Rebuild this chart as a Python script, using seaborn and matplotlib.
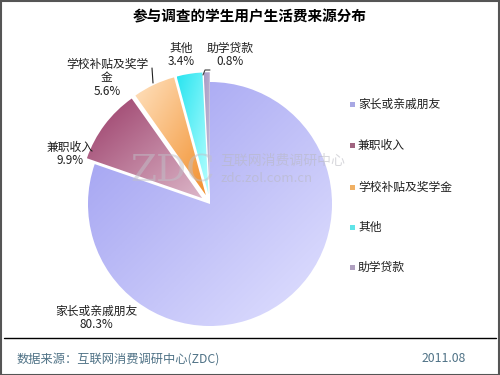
import numpy as np
import matplotlib
matplotlib.use("Agg")
import matplotlib.pyplot as plt
import seaborn as sns
from matplotlib.colors import LinearSegmentedColormap
from matplotlib.patches import Rectangle
from matplotlib.lines import Line2D

# ---- data ----
categories = ["家长或亲戚朋友", "兼职收入", "学校补贴及奖学金", "其他", "助学贷款"]
values = [80.3, 9.9, 5.6, 3.4, 0.8]
pct_labels = ["80.3%", "9.9%", "5.6%", "3.4%", "0.8%"]
slice_labels = ["家长或亲戚朋友", "兼职收入", "学校补贴及奖学\n金", "其他", "助学贷款"]
title = "参与调查的学生用户生活费来源分布"
source_text = "数据来源：互联网消费调研中心(ZDC)"
date_text = "2011.08"

# ---- style ----
sns.set_theme(style="white")
plt.rcParams['font.family'] = ['Noto Sans CJK SC', 'DejaVu Sans']

grads = [("#9c9cf0", "#e2e2ff"),
         ("#9a3c68", "#dcb6c8"),
         ("#ffe2c0", "#f2902e"),
         ("#28e4f0", "#b8ffff"),
         ("#a89cc4", "#c8c0dc")]
legend_colors = ["#a8a8e4", "#a06480", "#f0b064", "#60e4e8", "#b0a0c0"]
explode = [0, 0.08, 0.08, 0.08, 0.08]

W, H = 500, 375
CX, CY, R = 210, 204, 122   # pie centre / radius in pixels

fig = plt.figure(figsize=(W / 100, H / 100), dpi=100)
fig.patch.set_facecolor("white")
ax = fig.add_axes([0, 0, 1, 1])
ax.axis("off")


def P(x, y):
    """pixel -> data coords"""
    return (x - CX) / R, (CY - y) / R


wedges, _ = ax.pie(values, startangle=90, counterclock=False, explode=explode,
                   radius=1, wedgeprops=dict(linewidth=0))

g = np.linspace(0, 1, 200)
X, Y = np.meshgrid(g, g)
Z = (X + (1 - Y)) / 2
for w, (c1, c2) in zip(wedges, grads):
    w.set_facecolor("none")
    bb = w.get_path().get_extents(w.get_transform() - ax.transData)
    cmap = LinearSegmentedColormap.from_list("g", [c1, c2])
    im = ax.imshow(Z, cmap=cmap, extent=[bb.x0, bb.x1, bb.y0, bb.y1],
                   origin="lower", interpolation="bilinear", zorder=1)
    im.set_clip_path(w)

ax.set_aspect("auto")
ax.set_xlim(-CX / R, (W - CX) / R)
ax.set_ylim(-(H - CY) / R, CY / R)

# watermark
ax.text(*P(173, 172), "ZDC", family="DejaVu Serif", fontsize=27, color="#c0c0c8",
        alpha=0.5, ha="center", va="center", zorder=3)
ax.text(*P(220, 161), "互联网消费调研中心", fontsize=10, color="#b8b8c0", alpha=0.55,
        ha="left", va="center", zorder=3)
ax.text(*P(221, 179), "zdc.zol.com.cn", fontsize=9.5, color="#b8b8c0", alpha=0.55,
        ha="left", va="center", zorder=3)

# slice labels
label_pos = [(96, 318), (70, 154), (107, 78), (181, 55), (230, 55)]
for (x, y), lab, pct in zip(label_pos, slice_labels, pct_labels):
    ax.text(*P(x, y), lab + "\n" + pct, fontsize=8.5, color="#202020",
            ha="center", va="center", linespacing=1.05, zorder=4)

# leader lines
ax.plot(*zip(P(152, 68), P(153, 83)), color="#202020", lw=0.8, zorder=4)
ax.plot(*zip(P(203, 75), P(205, 70), P(210, 70)), color="#404040", lw=0.8, zorder=4)

# legend
leg_y = [104, 145, 187, 227, 267]
for y, c, lab in zip(leg_y, legend_colors, categories):
    ax.add_patch(Rectangle(P(350, y + 2.5), 5 / R, 5 / R, facecolor=c,
                           edgecolor="none", zorder=4))
    ax.text(*P(358, y), lab, fontsize=8.5, color="#202020", ha="left",
            va="center", zorder=4)

# title
fig.text(0.5, 1 - 16 / H, title, fontsize=10.5, fontweight="bold", color="black",
         ha="center", va="center")

# footer
fig.add_artist(Line2D([4 / W, 496 / W], [1 - 338 / H] * 2, color="black", lw=1))
fig.text(17 / W, 1 - 359 / H, source_text, fontsize=8.8, color="#4f7286",
         ha="left", va="center")
fig.text(466 / W, 1 - 359 / H, date_text, fontsize=8.8, color="#4f7286",
         ha="right", va="center")

# border
fig.add_artist(Rectangle((0.001, 0.001), 0.997, 0.997, transform=fig.transFigure,
                         fill=False, edgecolor="#555555", lw=1.5))

fig.savefig("out.png", dpi=100, facecolor="white")
